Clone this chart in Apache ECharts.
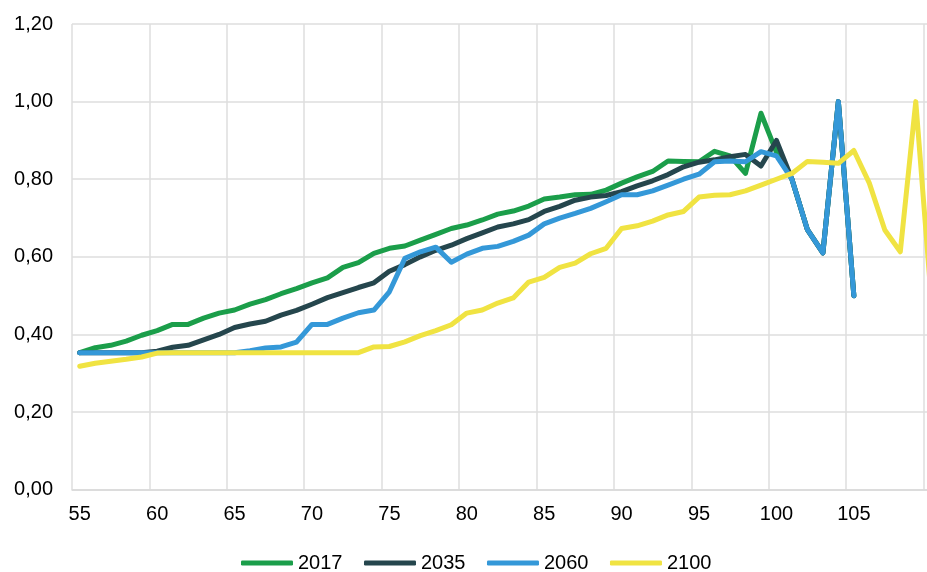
<!DOCTYPE html>
<html>
<head>
<meta charset="utf-8">
<script src="https://cdn.jsdelivr.net/npm/echarts@6/dist/echarts.min.js"></script>
<style>html,body{margin:0;padding:0;background:#fff;overflow:hidden;}#c{width:927px;height:572px;}</style>
</head>
<body>
<div id="c"></div>
<script>
const ages = ['55','56','57','58','59','60','61','62','63','64','65','66','67','68','69','70','71','72','73','74','75','76','77','78','79','80','81','82','83','84','85','86','87','88','89','90','91','92','93','94','95','96','97','98','99','100','101','102','103','104','105','106','107','108','109','110'];
const yTicks = [0, 0.2, 0.4, 0.6, 0.8, 1.0, 1.2];
const s2017 = [0.353,0.366,0.372,0.383,0.398,0.41,0.426,0.426,0.442,0.455,0.463,0.478,0.49,0.505,0.518,0.533,0.546,0.573,0.585,0.609,0.622,0.628,0.643,0.658,0.673,0.682,0.695,0.71,0.718,0.731,0.749,0.754,0.76,0.761,0.772,0.79,0.806,0.82,0.847,0.846,0.845,0.872,0.86,0.815,0.97,0.87,0.80,0.67,0.61,1.0,0.50];
const s2035 = [0.353,0.353,0.353,0.353,0.353,0.357,0.367,0.372,0.386,0.40,0.418,0.427,0.434,0.45,0.462,0.478,0.495,0.508,0.521,0.533,0.563,0.58,0.60,0.617,0.63,0.647,0.662,0.677,0.685,0.696,0.717,0.73,0.746,0.754,0.758,0.768,0.783,0.796,0.812,0.832,0.844,0.85,0.858,0.864,0.834,0.90,0.80,0.67,0.61,1.0,0.50];
const s2060 = [0.353,0.353,0.353,0.353,0.353,0.353,0.353,0.353,0.353,0.353,0.353,0.358,0.365,0.368,0.38,0.426,0.426,0.442,0.456,0.463,0.51,0.596,0.613,0.625,0.586,0.607,0.622,0.627,0.64,0.656,0.685,0.70,0.712,0.725,0.742,0.76,0.76,0.77,0.785,0.80,0.813,0.845,0.847,0.845,0.871,0.86,0.80,0.67,0.61,1.0,0.50];
const s2100 = [0.318,0.326,0.331,0.336,0.342,0.352,0.353,0.353,0.353,0.353,0.353,0.353,0.353,0.353,0.353,0.353,0.353,0.353,0.353,0.368,0.369,0.381,0.397,0.41,0.425,0.455,0.463,0.481,0.494,0.535,0.547,0.573,0.584,0.608,0.622,0.673,0.68,0.692,0.708,0.717,0.754,0.759,0.76,0.77,0.785,0.80,0.815,0.846,0.844,0.841,0.874,0.79,0.669,0.613,1.0,0.49];

const names = ['2017','2035','2060','2100'];
const colors = ['#1b9e4a','#25464d','#3498d8','#f0e342'];
const values = [s2017, s2035, s2060, s2100];

const font = 'Liberation Sans, Arial, sans-serif';
const chart = echarts.init(document.getElementById('c'), null, {renderer: 'canvas'});
chart.setOption({
  animation: false,
  backgroundColor: '#ffffff',
  grid: {left: 72, width: 867, top: 24, bottom: 82.3, containLabel: false, outerBoundsMode: 'none'},
  legend: {
    data: names,
    left: 236, top: 548,
    icon: 'roundRect',
    itemWidth: 52, itemHeight: 5, itemGap: 21.5,
    textStyle: {fontFamily: font, fontSize: 20, color: '#000'}
  },
  xAxis: {
    type: 'category',
    data: ages,
    boundaryGap: true,
    axisLine: {show: true, lineStyle: {color: '#d9d9d9', width: 1.5}},
    axisTick: {show: false},
    axisLabel: {
      interval: 4, margin: 15, color: '#000', fontFamily: font, fontSize: 20,
      formatter: v => (v === '110' ? '' : v)
    },
    splitLine: {show: true, interval: 4, lineStyle: {color: '#dedede', width: 1.5}}
  },
  yAxis: {
    type: 'value',
    min: yTicks[0], max: yTicks[yTicks.length - 1], interval: 0.2,
    axisLine: {show: false},
    axisTick: {show: false},
    axisLabel: {
      margin: 19, color: '#000', fontFamily: font, fontSize: 20,
      formatter: v => v.toFixed(2).replace('.', ',')
    },
    splitLine: {show: true, lineStyle: {color: '#dedede', width: 1.5}}
  },
  series: names.map((n, k) => ({
    name: n,
    type: 'line',
    data: values[k],
    symbol: 'none',
    color: colors[k],
    lineStyle: {color: colors[k], width: 5, cap: 'round', join: 'round'},
    z: 2 + k
  }))
});
</script>
</body>
</html>
